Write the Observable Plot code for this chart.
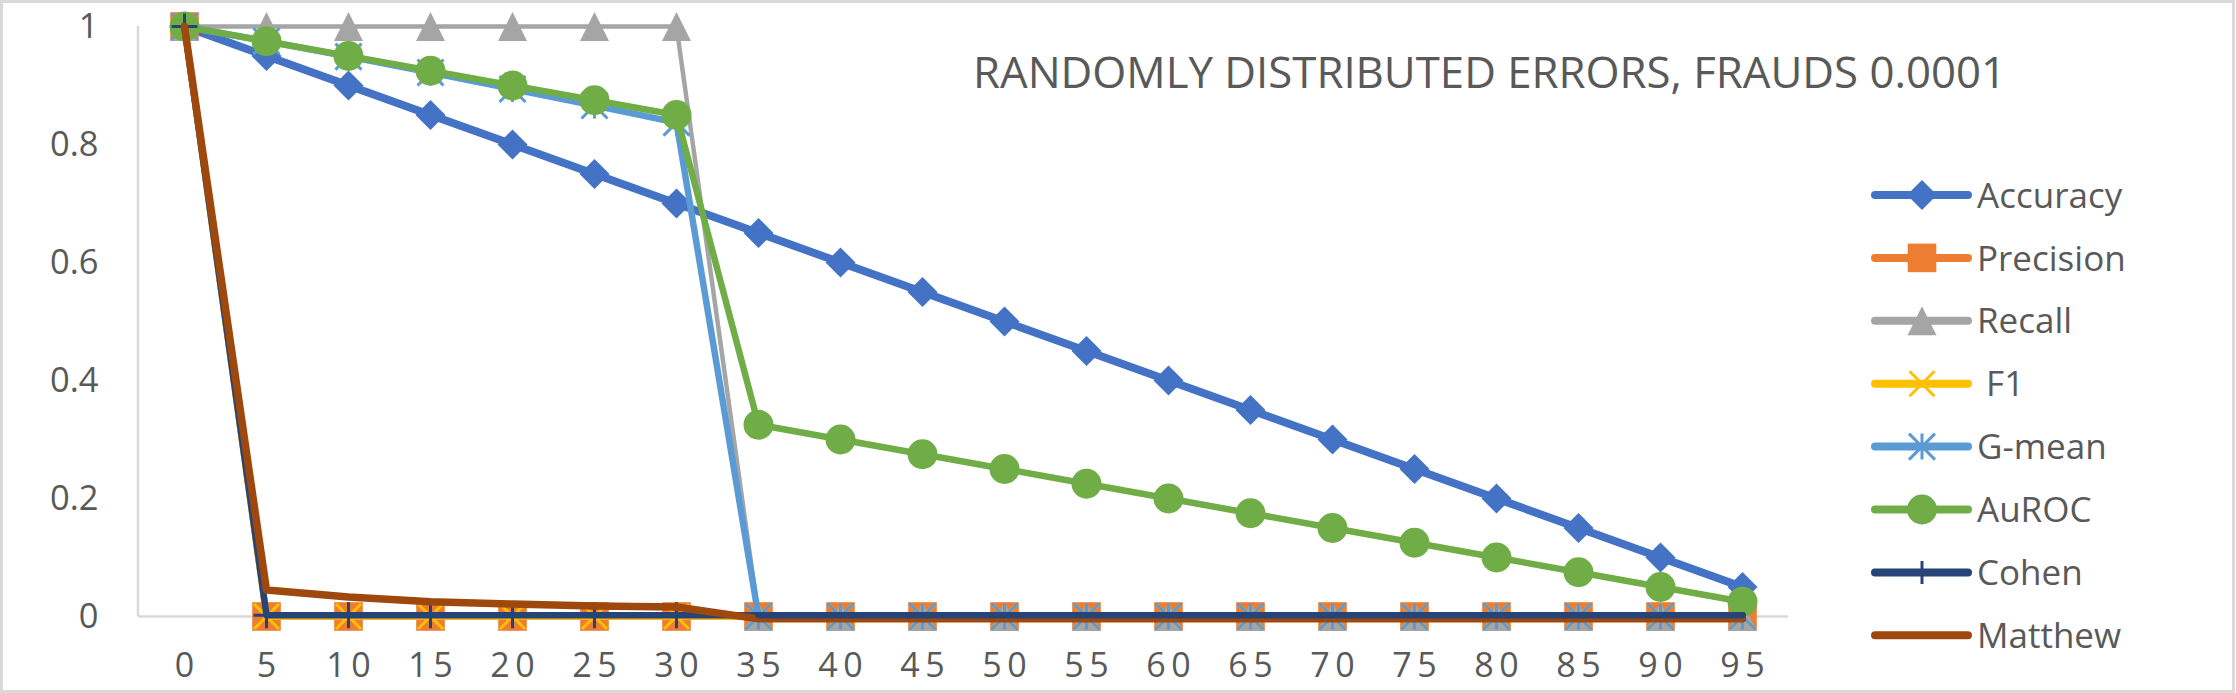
<!DOCTYPE html>
<html>
<head>
<meta charset="utf-8">
<script src="https://cdn.jsdelivr.net/npm/d3@7"></script>
<script src="https://cdn.jsdelivr.net/npm/@observablehq/plot@0.6"></script>
<style>
  html, body { margin: 0; padding: 0; background: white; }
  svg { display: block; }
  g[aria-label="x-axis tick label"] text { letter-spacing: 5.5px; }
</style>
</head>
<body>
<div id="chart"></div>
<script>
const categories = ["0","5","10","15","20","25","30","35","40","45","50","55","60","65","70","75","80","85","90","95"];
const accuracy  = [1,0.95,0.9,0.85,0.8,0.75,0.7,0.65,0.6,0.55,0.5,0.45,0.4,0.35,0.3,0.25,0.2,0.15,0.1,0.05];
const precision = [1,0,0,0,0,0,0,0,0,0,0,0,0,0,0,0,0,0,0,0];
const recall    = [1,1,1,1,1,1,1,0,0,0,0,0,0,0,0,0,0,0,0,0];
const f1        = [1,0,0,0,0,0,0,0,0,0,0,0,0,0,0,0,0,0,0,0];
const gmean     = [1,0.975,0.949,0.922,0.894,0.866,0.837,0,0,0,0,0,0,0,0,0,0,0,0,0];
const auroc     = [1,0.975,0.95,0.925,0.9,0.875,0.85,0.325,0.3,0.275,0.25,0.225,0.2,0.175,0.15,0.125,0.1,0.075,0.05,0.025];
const cohen     = [1,0.002,0.002,0.002,0.002,0.002,0.002,0.002,0.002,0.002,0.002,0.002,0.002,0.002,0.002,0.002,0.002,0.002,0.002,0.002];
const matthew   = [1,0.045,0.033,0.025,0.021,0.018,0.016,-0.004,-0.004,-0.004,-0.004,-0.004,-0.004,-0.004,-0.004,-0.004,-0.004,-0.004,-0.004,-0.004];
const yTicks = [0,0.2,0.4,0.6,0.8,1];
const titleText = "RANDOMLY DISTRIBUTED ERRORS, FRAUDS 0.0001";

// custom Excel-like marker symbols (size = PI*r*r from Plot)
const R = s => Math.sqrt(s / Math.PI);
const symDiamond = {draw(c, s){const r=R(s); c.moveTo(0,-r); c.lineTo(r,0); c.lineTo(0,r); c.lineTo(-r,0); c.closePath();}};
const symSquare = {draw(c, s){const r=R(s); c.moveTo(-r,-r); c.lineTo(r,-r); c.lineTo(r,r); c.lineTo(-r,r); c.closePath();}};
const symTriangle = {draw(c, s){const r=R(s); c.moveTo(0,-r); c.lineTo(r,r); c.lineTo(-r,r); c.closePath();}};
const symX = {draw(c, s){const r=R(s); c.moveTo(-r,-r); c.lineTo(r,r); c.moveTo(r,-r); c.lineTo(-r,r);}};
const symAst = {draw(c, s){const r=R(s); c.moveTo(-r,-r); c.lineTo(r,r); c.moveTo(r,-r); c.lineTo(-r,r); c.moveTo(0,-r); c.lineTo(0,r);}};
const symPlus = {draw(c, s){const r=R(s); c.moveTo(0,-r); c.lineTo(0,r); c.moveTo(-r,0); c.lineTo(r,0);}};
const symCircle = {draw(c, s){const r=R(s); c.moveTo(r,0); c.arc(0,0,r,0,2*Math.PI);}};

const series = [
  {name:"Accuracy",  values:accuracy,  color:"#4472C4", lw:8,   sym:symDiamond,  r:15,   filled:true},
  {name:"Precision", values:precision, color:"#ED7D31", lw:6.5, sym:symSquare,   r:14.3, filled:true},
  {name:"Recall",    values:recall,    color:"#A5A5A5", lw:4.5, sym:symTriangle, r:14.5, filled:true},
  {name:" F1",       values:f1,        color:"#FFC000", lw:6.5, sym:symX,        r:12.5, filled:false},
  {name:"G-mean",    values:gmean,     color:"#5B9BD5", lw:6.5, sym:symAst,      r:13,   filled:false},
  {name:"AuROC",     values:auroc,     color:"#70AD47", lw:6.5, sym:symCircle,   r:15,   filled:true},
  {name:"Cohen",     values:cohen,     color:"#264478", lw:6.5, sym:symPlus,     r:13,   filled:false},
  {name:"Matthew",   values:matthew,   color:"#9E480E", lw:7.5, sym:null,        r:0,    filled:true}
];

const marks = [Plot.ruleY([0], {stroke:"#d9d9d9", strokeWidth:2.5})];
for (const s of series) {
  const rows = categories.map((c, i) => ({x:c, y:s.values[i]}));
  marks.push(Plot.line(rows, {x:"x", y:"y", stroke:s.color, strokeWidth:s.lw, strokeLinejoin:"round"}));
  if (s.sym) {
    const dotRows = s.name === "Cohen" ? rows.filter(d => +d.x <= 30) : rows;
    marks.push(Plot.dot(dotRows, {
      x:"x", y:"y", r:s.r, symbol:s.sym,
      fill: s.filled ? s.color : "none",
      stroke: s.filled ? "none" : s.color,
      strokeWidth: s.filled ? 0 : 3
    }));
  }
}
// Cohen line sits above Matthew along the zero run
{
  const s = series.find(d => d.name === "Cohen");
  const rows = categories.map((c, i) => ({x:c, y:s.values[i]})).filter(d => +d.x >= 35);
  marks.push(Plot.line(rows, {x:"x", y:"y", stroke:s.color, strokeWidth:s.lw, strokeLinejoin:"round"}));
}
marks.push(Plot.axisY({ticks:yTicks, tickFormat:d => String(d), tickSize:0, tickPadding:40, fontSize:34.5, fill:"#595959", label:null}));
marks.push(Plot.axisX({tickSize:0, tickPadding:36, fontSize:34, fill:"#595959", label:null, dx:2.75}));

const plot = Plot.plot({
  width:2236, height:693,
  marginLeft:138, marginRight:448, marginTop:26, marginBottom:77,
  x:{type:"point", domain:categories, padding:0.5},
  y:{domain:[0,1]},
  style:{fontFamily:"'Open Sans', sans-serif", background:"white", color:"#595959"},
  marks
});
document.getElementById("chart").appendChild(plot);

const svg = d3.select(plot);
const xr = plot.scale("x").range, yr = plot.scale("y").range;
// y axis line
svg.append("line").attr("x1", xr[0]).attr("x2", xr[0]).attr("y1", yr[0]).attr("y2", yr[1])
  .attr("stroke", "#d9d9d9").attr("stroke-width", 2.5);
// border
svg.append("rect").attr("x", 1.5).attr("y", 1.5).attr("width", 2232).attr("height", 690)
  .attr("fill", "none").attr("stroke", "#d9d9d9").attr("stroke-width", 3);
// title
svg.append("text").attr("x", 973).attr("y", 88).attr("font-size", 43)
  .attr("text-anchor", "start")
  .attr("font-family", "'Open Sans', sans-serif").attr("fill", "#595959")
  .attr("textLength", 1033).attr("lengthAdjust", "spacingAndGlyphs").text(titleText);
// legend
const lg = svg.append("g").attr("text-anchor", "start");
series.forEach((s, i) => {
  const cy = 195 + i * 62.9;
  lg.append("line").attr("x1", 1875).attr("x2", 1968).attr("y1", cy).attr("y2", cy)
    .attr("stroke", s.color).attr("stroke-width", 8).attr("stroke-linecap", "round");
  if (s.sym) {
    const rr = s.name === "Cohen" ? 11.5 : s.r;
    lg.append("path").attr("transform", `translate(1922,${cy})`)
      .attr("d", d3.symbol().type(s.sym).size(Math.PI * rr * rr)())
      .attr("fill", s.filled ? s.color : "none")
      .attr("stroke", s.filled ? "none" : s.color)
      .attr("stroke-width", s.filled ? 0 : 3);
  }
  lg.append("text").attr("x", 1977).attr("y", cy).attr("dy", "0.36em")
    .attr("text-anchor", "start")
    .attr("font-size", 35).attr("font-family", "'Open Sans', sans-serif")
    .attr("fill", "#595959").attr("xml:space", "preserve").style("white-space", "pre").text(s.name);
});
</script>
</body>
</html>
